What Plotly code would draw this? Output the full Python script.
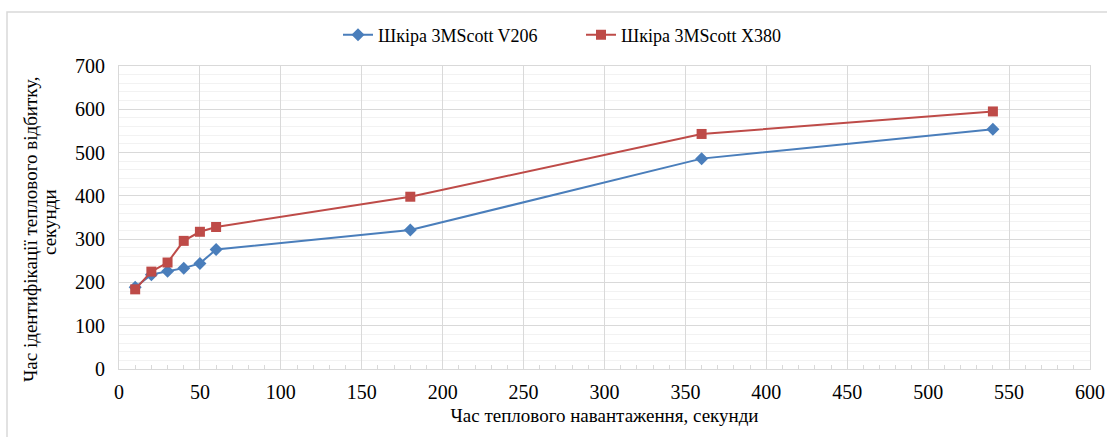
import plotly.graph_objects as go

x_vals = [10, 20, 30, 40, 50, 60, 180, 360, 540]
v206 = [189, 218, 226, 233, 244, 276, 321, 486, 554]
x380 = [184, 225, 246, 296, 317, 328, 398, 543, 595]
name_v206 = "Шкіра 3MScott V206"
name_x380 = "Шкіра 3MScott X380"
y_title_1 = "Час ідентифікації теплового відбитку,"
y_title_2 = "секунди"
x_title = "Час теплового навантаження, секунди"

FONT = "Times New Roman, Liberation Serif, DejaVu Serif, serif"

fig = go.Figure()
fig.add_trace(go.Scatter(x=x_vals, y=v206, name=name_v206, mode="lines+markers",
                         line=dict(color="#4a7ebb", width=2),
                         marker=dict(symbol="diamond", size=10, color="#4a7ebb")))
fig.add_trace(go.Scatter(x=x_vals, y=x380, name=name_x380, mode="lines+markers",
                         line=dict(color="#be4b48", width=2),
                         marker=dict(symbol="square", size=10, color="#be4b48")))

W, H = 1107, 437
L, R, T, B = 119, 1090, 66, 369
pw, ph = R - L, B - T

tick_f = dict(family=FONT, size=20, color="#000000")
title_f = dict(family=FONT, size=19, color="#000000")
leg_f = dict(family=FONT, size=18, color="#000000")

fig.update_layout(
    width=W, height=H,
    margin=dict(l=L, r=W - R, t=T, b=H - B, autoexpand=False),
    paper_bgcolor="white", plot_bgcolor="white",
    font=tick_f,
    showlegend=True,
    legend=dict(orientation="h", x=(338 - L) / pw, xanchor="left", y=(B - 35) / ph,
                yanchor="middle", font=leg_f, itemwidth=30, entrywidth=198,
                bgcolor="rgba(0,0,0,0)"),
    xaxis=dict(range=[0, 600], tick0=0, dtick=50, showgrid=True, gridcolor="#d9d9d9",
               gridwidth=1, showline=True, linecolor="#d9d9d9", mirror=True,
               zeroline=False, ticks="", tickfont=tick_f, automargin=False,
               ticklabelstandoff=5,
               minor=dict(dtick=10, ticks="inside", ticklen=4, tickcolor="#d9d9d9", showgrid=False),
               title=dict(text=x_title, font=title_f, standoff=6)),
    yaxis=dict(range=[0, 700], tick0=0, dtick=100, showgrid=True, gridcolor="#d9d9d9",
               gridwidth=1, showline=True, linecolor="#d9d9d9", mirror=True,
               zeroline=False, ticks="", tickfont=tick_f, automargin=False,
               ticklabelstandoff=9,
               minor=dict(dtick=20, showgrid=True, gridcolor="#f2f2f2", gridwidth=1)),
    annotations=[
        dict(text=y_title_1, xref="paper", yref="paper", x=(30 - L) / pw, y=(B - 229) / ph,
             xanchor="center", yanchor="middle", textangle=-90, showarrow=False, font=title_f),
        dict(text=y_title_2, xref="paper", yref="paper", x=(49 - L) / pw, y=(B - 222) / ph,
             xanchor="center", yanchor="middle", textangle=-90, showarrow=False, font=title_f),
    ],
    shapes=[dict(type="rect", xref="paper", yref="paper",
                 x0=(7 - L) / pw, x1=(W + 5 - L) / pw,
                 y0=(B - (H + 5)) / ph, y1=(B - 12) / ph,
                 line=dict(color="#d9d9d9", width=1.5), fillcolor="rgba(0,0,0,0)", layer="below")],
)

fig.write_html("out.html", config={"displayModeBar": False},
               post_script="document.body.style.margin='0';document.body.style.overflow='hidden';")
